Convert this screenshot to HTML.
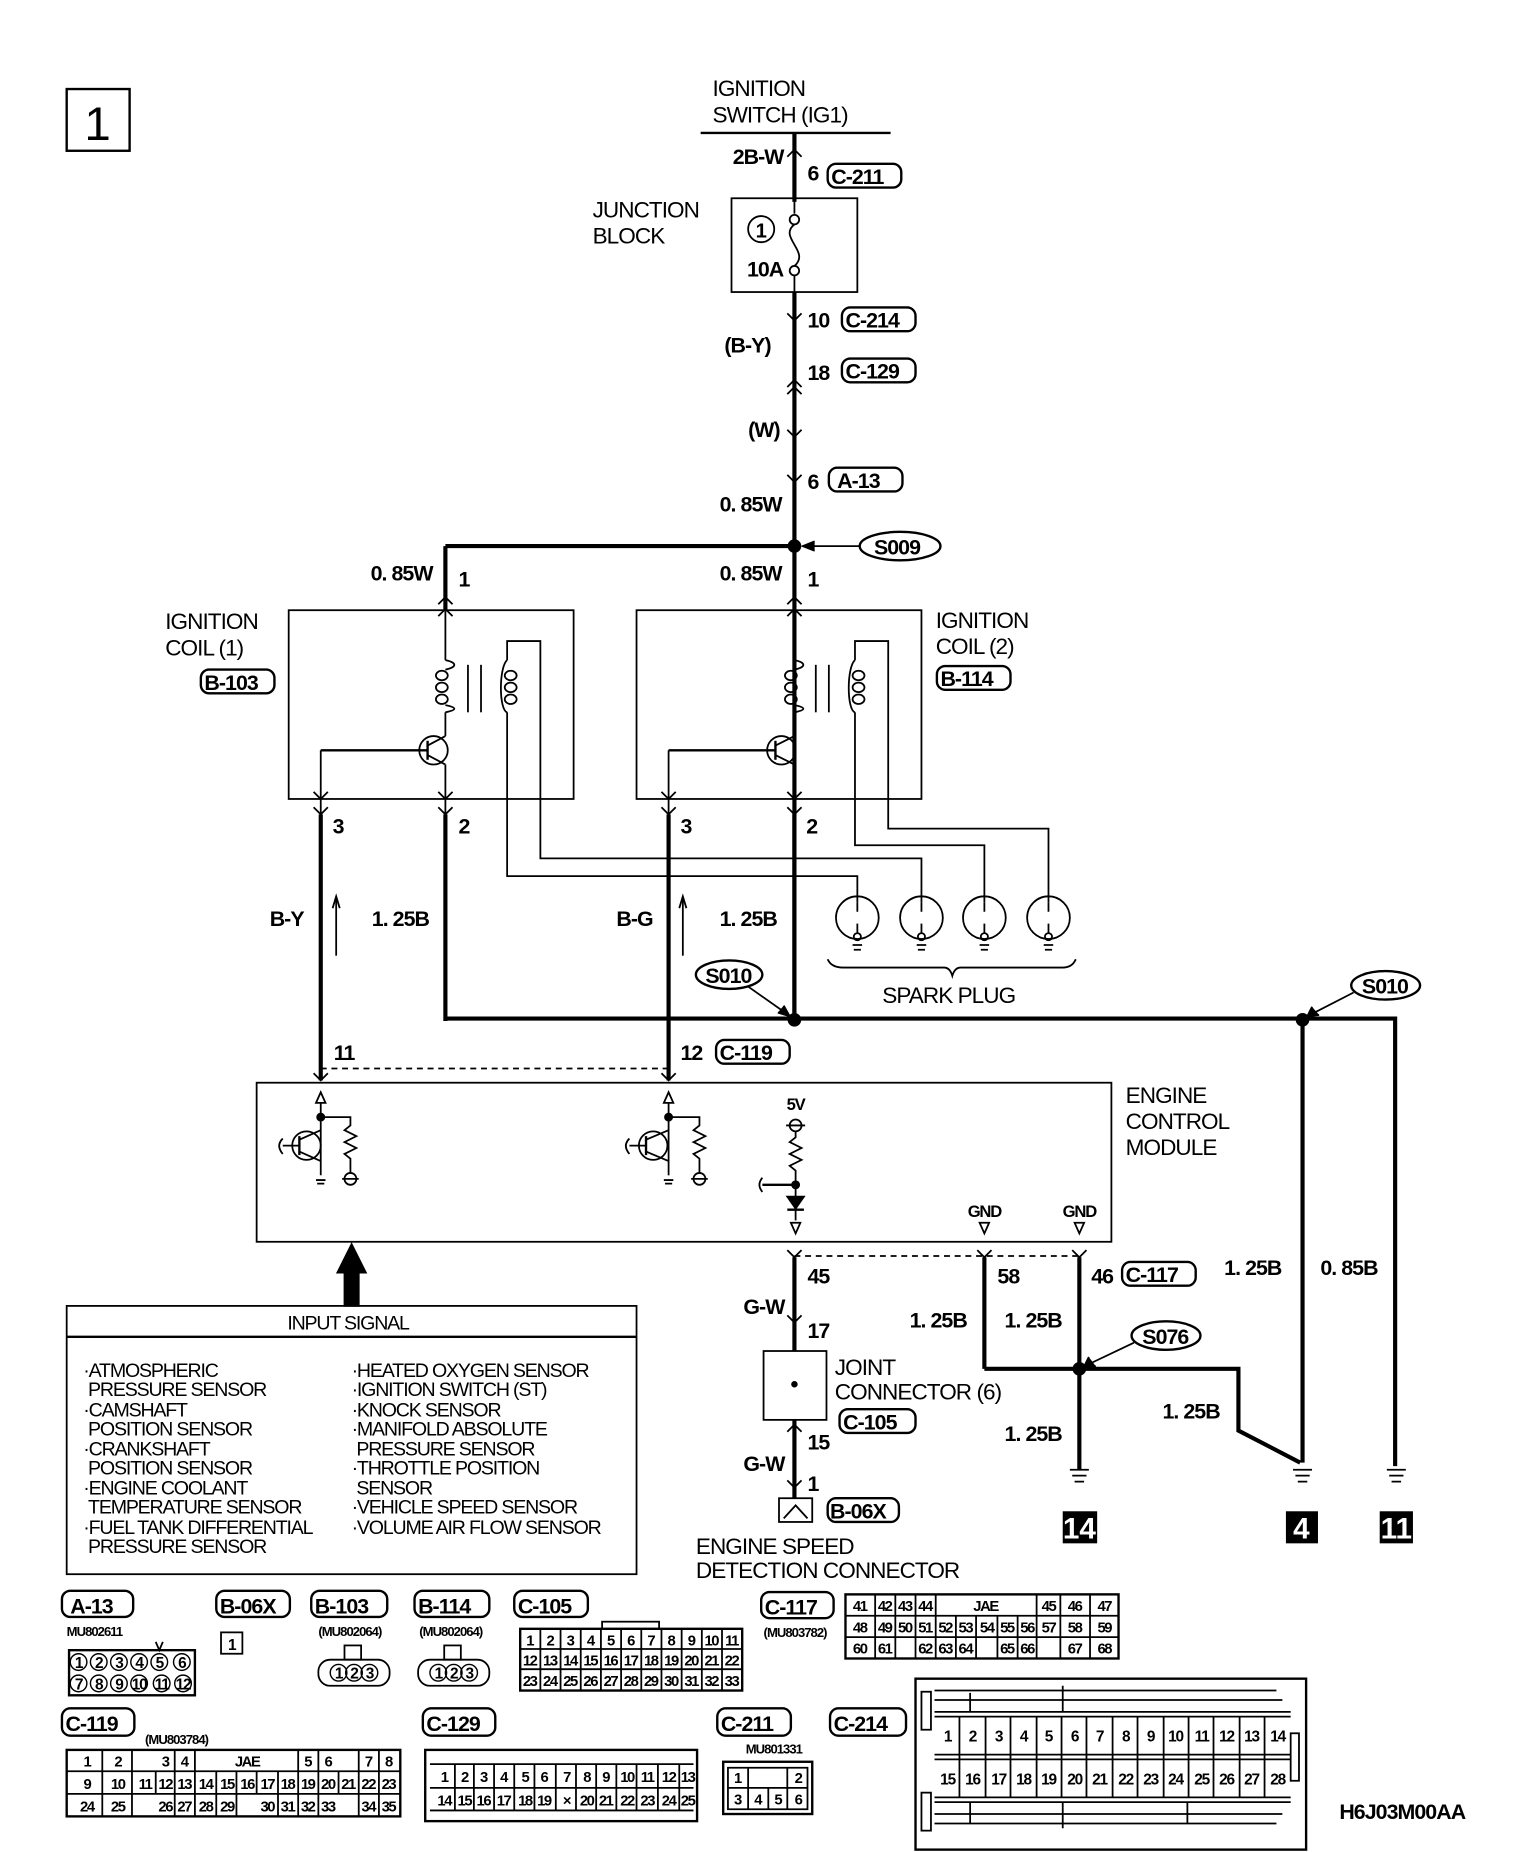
<!DOCTYPE html>
<html><head><meta charset="utf-8"><style>
html,body{margin:0;padding:0;background:#fff;}
svg{display:block;}
text{font-family:"Liberation Sans",sans-serif;fill:#000;}
.l{font-size:19px;letter-spacing:-0.8px;}
.b{font-size:18px;font-weight:bold;letter-spacing:-0.8px;}
.s{font-size:16.5px;letter-spacing:-1px;}
.tn{font-size:11px;font-weight:bold;letter-spacing:-0.8px;}
.c{font-size:12.5px;font-weight:bold;letter-spacing:-1.2px;text-anchor:middle;}
.k{stroke:#000;fill:none;}
</style></head><body>
<svg width="1520" height="1852" viewBox="0 0 1280 1560" xmlns="http://www.w3.org/2000/svg">
<g class="k" stroke-width="1.5">
<rect x="56" y="75" width="53" height="52" stroke-width="2"/>
<line x1="590" y1="112" x2="750" y2="112" stroke-width="2"/>
<line x1="669" y1="112" x2="669" y2="170" stroke-width="3.5"/>
<rect x="616" y="167" width="106" height="79" stroke-width="1.5"/>
<line x1="669" y1="167" x2="669" y2="180"/>
<circle cx="669" cy="185" r="4"/><circle cx="669" cy="228" r="4"/>
<path d="M669 189 C655 200,683 212,669 224"/>
<line x1="669" y1="232" x2="669" y2="246"/>
<circle cx="641" cy="193" r="11"/>
<line x1="669" y1="246" x2="669" y2="860" stroke-width="3.5"/>
<path d="M663 132 L669 126 L675 132 M663 264 L669 270 L675 264 M663 326 L669 320 L675 326 M663 332 L669 326 L675 332 M663 362 L669 368 L675 362 M663 400 L669 406 L675 400"/>
<line x1="375" y1="460" x2="669" y2="460" stroke-width="3.5"/>
<circle cx="669" cy="460" r="5" fill="#000"/>
<ellipse cx="758" cy="460" rx="34" ry="12" stroke-width="2"/>
<line x1="724" y1="460" x2="678" y2="460"/><path d="M686 456 L676 460 L686 464" fill="#000"/>
<line x1="375" y1="460" x2="375" y2="515" stroke-width="3.5"/>
<line x1="669" y1="460" x2="669" y2="515"/>
<rect x="243" y="514" width="240" height="159"/>
<rect x="536" y="514" width="240" height="159"/>
<path d="M369 509 L375 503 L381 509 M369 519 L375 513 L381 519"/>
<line x1="375" y1="515" x2="375" y2="556"/>
<path d="M375 556 C385 558,385 562,375 564 M375 594 C385 596,385 598,375 600"/>
<ellipse cx="372" cy="569" rx="5" ry="4"/><ellipse cx="372" cy="579" rx="5" ry="4"/><ellipse cx="372" cy="589" rx="5" ry="4"/>
<line x1="375" y1="600" x2="375" y2="620"/>
<line x1="394" y1="560" x2="394" y2="600"/><line x1="405" y1="560" x2="405" y2="600"/>
<ellipse cx="430" cy="569" rx="5" ry="4"/><ellipse cx="430" cy="579" rx="5" ry="4"/><ellipse cx="430" cy="589" rx="5" ry="4"/>
<path d="M427 600 C420 598,420 562,427 556"/>
<path d="M427 556 L427 540 L455 540 L455 723 L776 723 L776 760"/>
<path d="M427 600 L427 738 L722 738 L722 760"/>
<circle cx="365" cy="632" r="12"/>
<line x1="360" y1="624" x2="360" y2="640" stroke-width="2"/>
<line x1="360" y1="628" x2="375" y2="620"/><line x1="360" y1="636" x2="375" y2="644"/>
<line x1="270" y1="632" x2="360" y2="632" stroke-width="2"/>
<line x1="270" y1="632" x2="270" y2="690"/>
<line x1="375" y1="644" x2="375" y2="690"/>
<path d="M264 667 L270 673 L276 667 M264 680 L270 686 L276 680 M369 667 L375 673 L381 667 M369 680 L375 686 L381 680"/>
<path d="M663 509 L669 503 L675 509 M663 519 L669 513 L675 519"/>
<line x1="669" y1="515" x2="669" y2="556"/>
<path d="M669 556 C679 558,679 562,669 564 M669 594 C679 596,679 598,669 600"/>
<ellipse cx="666" cy="569" rx="5" ry="4"/><ellipse cx="666" cy="579" rx="5" ry="4"/><ellipse cx="666" cy="589" rx="5" ry="4"/>
<line x1="669" y1="600" x2="669" y2="620"/>
<line x1="687" y1="560" x2="687" y2="600"/><line x1="698" y1="560" x2="698" y2="600"/>
<ellipse cx="723" cy="569" rx="5" ry="4"/><ellipse cx="723" cy="579" rx="5" ry="4"/><ellipse cx="723" cy="589" rx="5" ry="4"/>
<path d="M720 600 C713 598,713 562,720 556"/>
<path d="M720 556 L720 540 L748 540 L748 698 L883 698 L883 760"/>
<path d="M720 600 L720 712 L829 712 L829 760"/>
<circle cx="658" cy="632" r="12"/>
<line x1="653" y1="624" x2="653" y2="640" stroke-width="2"/>
<line x1="653" y1="628" x2="669" y2="620"/><line x1="653" y1="636" x2="669" y2="644"/>
<line x1="563" y1="632" x2="653" y2="632" stroke-width="2"/>
<line x1="563" y1="632" x2="563" y2="690"/>
<line x1="669" y1="644" x2="669" y2="690"/>
<path d="M557 667 L563 673 L569 667 M557 680 L563 686 L569 680 M663 667 L669 673 L675 667 M663 680 L669 686 L675 680"/>
<line x1="270" y1="686" x2="270" y2="910" stroke-width="3.5"/>
<line x1="375" y1="686" x2="375" y2="860" stroke-width="3.5"/>
<line x1="563" y1="686" x2="563" y2="910" stroke-width="3.5"/>
<line x1="669" y1="686" x2="669" y2="860" stroke-width="3.5"/>
<polyline points="375,858 1175,858 1175,1235" stroke-width="3.5"/>
<line x1="1097" y1="858" x2="1097" y2="1232" stroke-width="3.5"/>
<circle cx="669" cy="859" r="5" fill="#000"/><circle cx="1097" cy="859" r="5" fill="#000"/>
<line x1="283" y1="805" x2="283" y2="757"/><path d="M280 765 L283 755 L286 765"/>
<line x1="575" y1="805" x2="575" y2="757"/><path d="M572 765 L575 755 L578 765"/>
<circle cx="722" cy="773" r="18"/><circle cx="776" cy="773" r="18"/><circle cx="829" cy="773" r="18"/><circle cx="883" cy="773" r="18"/>
<path d="M722 760 V768 M722 778 V786 M776 760 V768 M776 778 V786 M829 760 V768 M829 778 V786 M883 760 V768 M883 778 V786"/>
<circle cx="722" cy="789" r="3"/><circle cx="776" cy="789" r="3"/><circle cx="829" cy="789" r="3"/><circle cx="883" cy="789" r="3"/>
<path d="M718 796 H726 M719 800 H725 M772 796 H780 M773 800 H779 M825 796 H833 M826 800 H832 M879 796 H887 M880 800 H886"/>
<path d="M697 808 Q700 815 710 815 L795 815 Q800 815 802 822 Q804 815 809 815 L895 815 Q903 815 906 808"/>
<ellipse cx="614" cy="821" rx="28" ry="12" stroke-width="2"/>
<line x1="630" y1="831" x2="664" y2="855"/><path d="M655 853 L665 856 L660 847" fill="#000"/>
<ellipse cx="1167" cy="830" rx="29" ry="12" stroke-width="2"/>
<line x1="1140" y1="836" x2="1103" y2="855"/><path d="M1105 848 L1101 856 L1111 855" fill="#000"/>
<line x1="270" y1="900" x2="563" y2="900" stroke-dasharray="5,4"/>
<path d="M264 904 L270 910 L276 904 M557 904 L563 910 L569 904"/>
<rect x="216" y="912" width="720" height="134"/>
<path d="M266 929 L270 920 L274 929 Z M559 929 L563 920 L567 929 Z"/>
<line x1="270" y1="929" x2="270" y2="990"/><circle cx="270" cy="941" r="3" fill="#000"/>
<polyline points="270,941 295,941 295,948 290,952 300,957 290,962 300,967 290,972 295,976 295,988"/>
<circle cx="295" cy="993" r="5"/><line x1="288" y1="993" x2="302" y2="993"/>
<circle cx="258" cy="965" r="12"/><line x1="252" y1="957" x2="252" y2="973" stroke-width="2"/>
<line x1="238" y1="965" x2="252" y2="965"/><path d="M238 959 Q232 965 238 972"/>
<line x1="252" y1="960" x2="270" y2="952"/><line x1="252" y1="970" x2="270" y2="978"/>
<path d="M266 994 H274 M267 997 H273"/>
<line x1="563" y1="929" x2="563" y2="990"/><circle cx="563" cy="941" r="3" fill="#000"/>
<polyline points="563,941 589,941 589,948 584,952 594,957 584,962 594,967 584,972 589,976 589,988"/>
<circle cx="589" cy="993" r="5"/><line x1="582" y1="993" x2="596" y2="993"/>
<circle cx="550" cy="965" r="12"/><line x1="544" y1="957" x2="544" y2="973" stroke-width="2"/>
<line x1="530" y1="965" x2="544" y2="965"/><path d="M530 959 Q524 965 530 972"/>
<line x1="544" y1="960" x2="563" y2="952"/><line x1="544" y1="970" x2="563" y2="978"/>
<path d="M559 994 H567 M560 997 H566"/>
<circle cx="670" cy="948" r="5"/><line x1="662" y1="948" x2="678" y2="948"/>
<polyline points="670,953 670,958 665,962 675,967 665,972 675,977 665,982 670,986 670,998"/>
<line x1="642" y1="998" x2="670" y2="998" stroke-width="2"/><circle cx="670" cy="998" r="3" fill="#000"/>
<path d="M642 992 Q637 998 642 1004"/>
<line x1="670" y1="998" x2="670" y2="1028"/>
<path d="M663 1008 L677 1008 L670 1018 Z" fill="#000"/><line x1="663" y1="1019" x2="677" y2="1019" stroke-width="2"/>
<path d="M666 1030 L670 1039 L674 1030 Z M825 1030 L829 1039 L833 1030 Z M905 1030 L909 1039 L913 1030 Z"/>
<path d="M663 1053 L669 1059 L675 1053 M823 1053 L829 1059 L835 1053 M903 1053 L909 1059 L915 1053"/>
<line x1="669" y1="1058" x2="909" y2="1058" stroke-dasharray="5,4"/>
<line x1="669" y1="1059" x2="669" y2="1138" stroke-width="3.5"/>
<path d="M663 1108 L669 1114 L675 1108"/>
<rect x="643" y="1138" width="53" height="58"/><circle cx="669" cy="1166" r="2" fill="#000"/>
<line x1="669" y1="1196" x2="669" y2="1262" stroke-width="3.5"/>
<path d="M663 1206 L669 1200 L675 1206 M663 1247 L669 1253 L675 1247"/>
<rect x="656" y="1262" width="28" height="20"/><path d="M660 1279 L670 1268 L680 1279"/>
<line x1="829" y1="1059" x2="829" y2="1153" stroke-width="3.5"/>
<line x1="909" y1="1059" x2="909" y2="1238" stroke-width="3.5"/>
<polyline points="829,1153 1043,1153 1043,1205 1095,1232" stroke-width="3.5"/>
<circle cx="909" cy="1153" r="5" fill="#000"/>
<ellipse cx="982" cy="1125" rx="29" ry="12" stroke-width="2"/>
<line x1="955" y1="1131" x2="915" y2="1150"/><path d="M917 1143 L913 1151 L923 1151" fill="#000"/>
<path d="M901 1238 H917 M903 1243 H915 M905 1248 H913 M1089 1238 H1105 M1091 1243 H1103 M1093 1248 H1101 M1168 1238 H1184 M1170 1243 H1182 M1172 1248 H1180"/>
<path d="M296 1048 L308 1072 L302 1072 L302 1100 L290 1100 L290 1072 L284 1072 Z" fill="#000"/>
<rect x="56" y="1100" width="480" height="226"/>
<line x1="56" y1="1126" x2="536" y2="1126" stroke-width="2"/>
</g>
<rect x="895" y="1273" width="29" height="27" fill="#000"/>
<rect x="1083" y="1273" width="27" height="27" fill="#000"/>
<rect x="1162" y="1273" width="28" height="27" fill="#000"/>
<text x="909" y="1296" font-size="25" font-weight="bold" text-anchor="middle" style="fill:#fff">14</text>
<text x="1096" y="1296" font-size="25" font-weight="bold" text-anchor="middle" style="fill:#fff">4</text>
<text x="1176" y="1296" font-size="25" font-weight="bold" text-anchor="middle" style="fill:#fff">11</text>

<text x="82" y="118" font-size="40" text-anchor="middle">1</text>
<text class="l" x="600" y="81">IGNITION</text>
<text class="l" x="600" y="103">SWITCH (IG1)</text>
<text class="b" x="617" y="138">2B-W</text>
<text class="b" x="680" y="152">6</text>
<rect x="697" y="138" width="62" height="20" rx="7" fill="none" stroke="#000" stroke-width="2"/><text class="b" x="700" y="155">C-211</text>
<text class="l" x="499" y="183">JUNCTION</text><text class="l" x="499" y="205">BLOCK</text>
<text x="641" y="200" font-size="17" font-weight="bold" text-anchor="middle">1</text>
<text class="b" x="629" y="233" font-size="15">10A</text>
<text class="b" x="680" y="276">10</text>
<rect x="709" y="259" width="62" height="20" rx="7" fill="none" stroke="#000" stroke-width="2"/><text class="b" x="712" y="276">C-214</text>
<text class="b" x="610" y="297">(B-Y)</text>
<text class="b" x="680" y="320">18</text>
<rect x="709" y="302" width="62" height="20" rx="7" fill="none" stroke="#000" stroke-width="2"/><text class="b" x="712" y="319">C-129</text>
<text class="b" x="630" y="368">(W)</text>
<text class="b" x="680" y="412">6</text>
<rect x="698" y="394" width="62" height="20" rx="7" fill="none" stroke="#000" stroke-width="2"/><text class="b" x="705" y="411">A-13</text>
<text class="b" x="606" y="431">0. 85W</text>
<text class="b" x="736" y="467">S009</text>
<text class="b" x="312" y="489">0. 85W</text><text class="b" x="386" y="494">1</text>
<text class="b" x="606" y="489">0. 85W</text><text class="b" x="680" y="494">1</text>
<text class="l" x="139" y="530">IGNITION</text><text class="l" x="139" y="552">COIL (1)</text>
<rect x="169" y="564" width="62" height="20" rx="7" fill="none" stroke="#000" stroke-width="2"/><text class="b" x="172" y="581">B-103</text>
<text class="l" x="788" y="529">IGNITION</text><text class="l" x="788" y="551">COIL (2)</text>
<rect x="789" y="561" width="62" height="20" rx="7" fill="none" stroke="#000" stroke-width="2"/><text class="b" x="792" y="578">B-114</text>
<text class="b" x="280" y="702">3</text><text class="b" x="386" y="702">2</text>
<text class="b" x="573" y="702">3</text><text class="b" x="679" y="702">2</text>
<text class="b" x="227" y="780">B-Y</text><text class="b" x="313" y="780">1. 25B</text>
<text class="b" x="519" y="780">B-G</text><text class="b" x="606" y="780">1. 25B</text>
<text class="l" x="743" y="845">SPARK PLUG</text>
<text class="b" x="594" y="828">S010</text>
<text class="b" x="1147" y="837">S010</text>
<text class="b" x="281" y="893">11</text>
<text class="b" x="573" y="893">12</text>
<rect x="603" y="876" width="62" height="20" rx="7" fill="none" stroke="#000" stroke-width="2"/><text class="b" x="606" y="893">C-119</text>
<text class="l" x="948" y="929">ENGINE</text><text class="l" x="948" y="951">CONTROL</text><text class="l" x="948" y="973">MODULE</text>
<text x="670" y="935" text-anchor="middle" font-size="14" font-weight="bold" letter-spacing="-1">5V</text>
<text x="829" y="1025" text-anchor="middle" font-size="14" font-weight="bold" letter-spacing="-1">GND</text>
<text x="909" y="1025" text-anchor="middle" font-size="14" font-weight="bold" letter-spacing="-1">GND</text>
<text class="b" x="680" y="1081">45</text><text class="b" x="840" y="1081">58</text><text class="b" x="919" y="1081">46</text>
<rect x="945" y="1063" width="62" height="20" rx="7" fill="none" stroke="#000" stroke-width="2"/><text class="b" x="948" y="1080">C-117</text>
<text class="b" x="1031" y="1074">1. 25B</text><text class="b" x="1112" y="1074">0. 85B</text>
<text class="b" x="626" y="1107">G-W</text>
<text class="b" x="680" y="1127">17</text>
<text class="b" x="766" y="1118">1. 25B</text><text class="b" x="846" y="1118">1. 25B</text>
<text class="b" x="962" y="1132">S076</text>
<text class="l" x="703" y="1158">JOINT</text><text class="l" x="703" y="1179">CONNECTOR (6)</text>
<rect x="707" y="1187" width="64" height="20" rx="7" fill="none" stroke="#000" stroke-width="2"/><text class="b" x="710" y="1204">C-105</text>
<text class="b" x="979" y="1195">1. 25B</text>
<text class="b" x="680" y="1221">15</text>
<text class="b" x="846" y="1214">1. 25B</text>
<text class="b" x="626" y="1239">G-W</text>
<text class="b" x="680" y="1256">1</text>
<rect x="697" y="1262" width="60" height="20" rx="7" fill="none" stroke="#000" stroke-width="2"/><text class="b" x="699" y="1279">B-06X</text>
<text class="l" x="586" y="1309">ENGINE SPEED</text><text class="l" x="586" y="1329">DETECTION CONNECTOR</text>
<text class="s" x="293" y="1120" text-anchor="middle" font-size="16">INPUT SIGNAL</text>
<g class="s">
<text x="70" y="1160">·ATMOSPHERIC</text><text x="74" y="1176">PRESSURE SENSOR</text>
<text x="70" y="1193">·CAMSHAFT</text><text x="74" y="1209">POSITION SENSOR</text>
<text x="70" y="1226">·CRANKSHAFT</text><text x="74" y="1242">POSITION SENSOR</text>
<text x="70" y="1259">·ENGINE COOLANT</text><text x="74" y="1275">TEMPERATURE SENSOR</text>
<text x="70" y="1292">·FUEL TANK DIFFERENTIAL</text><text x="74" y="1308">PRESSURE SENSOR</text>
<text x="296" y="1160">·HEATED OXYGEN SENSOR</text><text x="296" y="1176">·IGNITION SWITCH (ST)</text>
<text x="296" y="1193">·KNOCK SENSOR</text><text x="296" y="1209">·MANIFOLD ABSOLUTE</text>
<text x="300" y="1226">PRESSURE SENSOR</text><text x="296" y="1242">·THROTTLE POSITION</text>
<text x="300" y="1259">SENSOR</text><text x="296" y="1275">·VEHICLE SPEED SENSOR</text>
<text x="296" y="1292">·VOLUME AIR FLOW SENSOR</text>
</g>

<g fill="none" stroke="#000" stroke-width="2">
<rect x="52" y="1340" width="60" height="22" rx="7"/><rect x="182" y="1340" width="62" height="22" rx="7"/>
<rect x="262" y="1340" width="64" height="22" rx="7"/><rect x="349" y="1340" width="63" height="22" rx="7"/>
<rect x="433" y="1340" width="62" height="22" rx="7"/><rect x="641" y="1341" width="61" height="22" rx="7"/>
<rect x="52" y="1439" width="61" height="23" rx="7"/><rect x="356" y="1439" width="61" height="23" rx="7"/>
<rect x="604" y="1439" width="62" height="23" rx="7"/><rect x="699" y="1439" width="64" height="23" rx="7"/>
</g>
<g class="b" font-size="19">
<text x="59" y="1359">A-13</text><text x="185" y="1359">B-06X</text><text x="265" y="1359">B-103</text><text x="352" y="1359">B-114</text>
<text x="436" y="1359">C-105</text><text x="644" y="1360">C-117</text><text x="55" y="1458">C-119</text><text x="359" y="1458">C-129</text>
<text x="607" y="1458">C-211</text><text x="702" y="1458">C-214</text>
</g>
<g class="tn">
<text x="56" y="1378">MU802611</text><text x="268" y="1378">(MU802064)</text><text x="353" y="1378">(MU802064)</text>
<text x="643" y="1379">(MU803782)</text><text x="122" y="1469">(MU803784)</text><text x="628" y="1477">MU801331</text>
</g>
<text class="b" x="1128" y="1532" font-size="16">H6J03M00AA</text>

<g fill="none" stroke="#000" stroke-width="1.5">
<rect x="58" y="1390" width="106" height="38" stroke-width="2"/>
<path d="M131 1383 L134 1390 L137 1383"/>
<rect x="186" y="1375" width="18" height="18"/>
<rect x="268" y="1398" width="60" height="22" rx="10"/><rect x="290" y="1386" width="14" height="12"/>
<rect x="352" y="1398" width="60" height="22" rx="10"/><rect x="374" y="1386" width="14" height="12"/>
<!-- C-105 -->
<rect x="438" y="1372" width="187" height="52" stroke-width="2"/>
<path d="M438 1389 H625 M438 1406 H625"/>
<path d="M455 1372 V1424 M472 1372 V1424 M489 1372 V1424 M506 1372 V1424 M523 1372 V1424 M540 1372 V1424 M557 1372 V1424 M574 1372 V1424 M591 1372 V1424 M608 1372 V1424"/>
<rect x="507" y="1366" width="48" height="6"/>
<!-- C-117 -->
<rect x="712" y="1343" width="230" height="54" stroke-width="2"/>
<path d="M712 1361 H942 M712 1379 H942"/>
<path d="M737 1343 V1397 M754 1343 V1397 M771 1343 V1397 M788 1343 V1397 M873 1343 V1397 M893 1343 V1397 M918 1343 V1397 M805 1361 V1397 M822 1361 V1397 M840 1361 V1397 M857 1361 V1397"/>
<!-- C-119 -->
<rect x="56" y="1474" width="281" height="56" stroke-width="2"/>
<path d="M56 1492 H337 M56 1511 H337"/>
<path d="M86 1474 V1530 M111 1474 V1530 M131 1492 V1511 M147 1474 V1530 M164 1474 V1530 M182 1492 V1530 M199 1492 V1530 M216 1492 V1511 M234 1492 V1530 M251 1474 V1530 M268 1474 V1530 M285 1492 V1511 M302 1474 V1530 M319 1474 V1530"/>
<!-- C-129 -->
<rect x="358" y="1474" width="229" height="60" stroke-width="2"/>
<path d="M362 1486 H584 M362 1506 H584 M362 1525 H584"/>
<path d="M383 1486 V1525 M399 1486 V1525 M416 1486 V1525 M433 1486 V1525 M450 1486 V1525 M468 1486 V1525 M485 1486 V1525 M502 1486 V1525 M519 1486 V1525 M536 1486 V1525 M554 1486 V1525 M572 1486 V1525"/>
<!-- C-211 -->
<rect x="609" y="1484" width="75" height="44" stroke-width="2"/>
<path d="M613 1489 H680 V1524 H613 Z M613 1506 H680 M630 1489 V1524 M647 1506 V1524 M663 1489 V1524"/>
<!-- C-214 -->
<rect x="771" y="1414" width="329" height="144" stroke-width="2"/>
<path d="M787 1442 H1087 M787 1446 H1087 M787 1478 H1087 M787 1482 H1087 M787 1514 H1087 M787 1518 H1087 M787 1432 H1080 M787 1528 H1080 M787 1424 H1075 M787 1536 H1075"/>
<rect x="776" y="1425" width="8" height="32"/><rect x="776" y="1510" width="8" height="32"/>
<rect x="1087" y="1460" width="7" height="40"/>
<path d="M808 1446 V1514 M830 1446 V1514 M851 1446 V1514 M873 1446 V1514 M894 1446 V1514 M915 1446 V1514 M937 1446 V1514 M958 1446 V1514 M980 1446 V1514 M1001 1446 V1514 M1022 1446 V1514 M1044 1446 V1514 M1065 1446 V1514"/>
<path d="M895 1420 V1442 M895 1518 V1540 M817 1426 V1442 M1000 1518 V1536 M817 1518 V1536"/>
</g>
<g font-size="13" font-weight="bold" text-anchor="middle" style="letter-spacing:-1px">
<text x="66" y="1405">1</text><text x="83" y="1405">2</text><text x="100" y="1405">3</text><text x="117" y="1405">4</text><text x="134" y="1405">5</text><text x="153" y="1405">6</text>
<text x="66" y="1423">7</text><text x="83" y="1423">8</text><text x="100" y="1423">9</text><text x="117" y="1423">10</text><text x="136" y="1423">11</text><text x="154" y="1423">12</text>
<text x="195" y="1390">1</text>
<text x="285" y="1414">1</text><text x="298" y="1414">2</text><text x="311" y="1414">3</text>
<text x="369" y="1414">1</text><text x="382" y="1414">2</text><text x="395" y="1414">3</text>
</g>
<g fill="none" stroke="#000" stroke-width="1.2">
<circle cx="66" cy="1400" r="7"/><circle cx="83" cy="1400" r="7"/><circle cx="100" cy="1400" r="7"/><circle cx="117" cy="1400" r="7"/><circle cx="134" cy="1400" r="7"/><circle cx="153" cy="1400" r="7"/>
<circle cx="66" cy="1418" r="7"/><circle cx="83" cy="1418" r="7"/><circle cx="100" cy="1418" r="7"/><circle cx="117" cy="1418" r="7"/><circle cx="136" cy="1418" r="7"/><circle cx="154" cy="1418" r="7"/>
<circle cx="285" cy="1409" r="7"/><circle cx="298" cy="1409" r="7"/><circle cx="311" cy="1409" r="7"/>
<circle cx="369" cy="1409" r="7"/><circle cx="382" cy="1409" r="7"/><circle cx="395" cy="1409" r="7"/>
</g>
<g class="c">
<!-- C-105 -->
<text x="446" y="1386">1</text><text x="463" y="1386">2</text><text x="480" y="1386">3</text><text x="497" y="1386">4</text><text x="514" y="1386">5</text><text x="531" y="1386">6</text><text x="548" y="1386">7</text><text x="565" y="1386">8</text><text x="582" y="1386">9</text><text x="599" y="1386">10</text><text x="616" y="1386">11</text>
<text x="446" y="1403">12</text><text x="463" y="1403">13</text><text x="480" y="1403">14</text><text x="497" y="1403">15</text><text x="514" y="1403">16</text><text x="531" y="1403">17</text><text x="548" y="1403">18</text><text x="565" y="1403">19</text><text x="582" y="1403">20</text><text x="599" y="1403">21</text><text x="616" y="1403">22</text>
<text x="446" y="1420">23</text><text x="463" y="1420">24</text><text x="480" y="1420">25</text><text x="497" y="1420">26</text><text x="514" y="1420">27</text><text x="531" y="1420">28</text><text x="548" y="1420">29</text><text x="565" y="1420">30</text><text x="582" y="1420">31</text><text x="599" y="1420">32</text><text x="616" y="1420">33</text>
<!-- C-117 -->
<text x="724" y="1357">41</text><text x="745" y="1357">42</text><text x="762" y="1357">43</text><text x="779" y="1357">44</text><text x="830" y="1357">JAE</text><text x="883" y="1357">45</text><text x="905" y="1357">46</text><text x="930" y="1357">47</text>
<text x="724" y="1375">48</text><text x="745" y="1375">49</text><text x="762" y="1375">50</text><text x="779" y="1375">51</text><text x="796" y="1375">52</text><text x="813" y="1375">53</text><text x="831" y="1375">54</text><text x="848" y="1375">55</text><text x="865" y="1375">56</text><text x="883" y="1375">57</text><text x="905" y="1375">58</text><text x="930" y="1375">59</text>
<text x="724" y="1393">60</text><text x="745" y="1393">61</text><text x="779" y="1393">62</text><text x="796" y="1393">63</text><text x="813" y="1393">64</text><text x="848" y="1393">65</text><text x="865" y="1393">66</text><text x="905" y="1393">67</text><text x="930" y="1393">68</text>
<!-- C-119 -->
<text x="73" y="1488">1</text><text x="99" y="1488">2</text><text x="139" y="1488">3</text><text x="155" y="1488">4</text><text x="208" y="1488">JAE</text><text x="259" y="1488">5</text><text x="276" y="1488">6</text><text x="310" y="1488">7</text><text x="327" y="1488">8</text>
<text x="73" y="1507">9</text><text x="99" y="1507">10</text><text x="122" y="1507">11</text><text x="139" y="1507">12</text><text x="155" y="1507">13</text><text x="173" y="1507">14</text><text x="191" y="1507">15</text><text x="208" y="1507">16</text><text x="225" y="1507">17</text><text x="242" y="1507">18</text><text x="259" y="1507">19</text><text x="276" y="1507">20</text><text x="293" y="1507">21</text><text x="310" y="1507">22</text><text x="327" y="1507">23</text>
<text x="73" y="1526">24</text><text x="99" y="1526">25</text><text x="139" y="1526">26</text><text x="155" y="1526">27</text><text x="173" y="1526">28</text><text x="191" y="1526">29</text><text x="225" y="1526">30</text><text x="242" y="1526">31</text><text x="259" y="1526">32</text><text x="276" y="1526">33</text><text x="310" y="1526">34</text><text x="327" y="1526">35</text>
<!-- C-129 -->
<text x="374" y="1501">1</text><text x="391" y="1501">2</text><text x="407" y="1501">3</text><text x="424" y="1501">4</text><text x="442" y="1501">5</text><text x="458" y="1501">6</text><text x="477" y="1501">7</text><text x="494" y="1501">8</text><text x="510" y="1501">9</text><text x="528" y="1501">10</text><text x="545" y="1501">11</text><text x="563" y="1501">12</text><text x="579" y="1501">13</text>
<text x="374" y="1521">14</text><text x="391" y="1521">15</text><text x="407" y="1521">16</text><text x="424" y="1521">17</text><text x="442" y="1521">18</text><text x="458" y="1521">19</text><text x="477" y="1521">×</text><text x="494" y="1521">20</text><text x="510" y="1521">21</text><text x="528" y="1521">22</text><text x="545" y="1521">23</text><text x="563" y="1521">24</text><text x="579" y="1521">25</text>
<!-- C-211 -->
<text x="621" y="1502">1</text><text x="672" y="1502">2</text>
<text x="621" y="1520">3</text><text x="638" y="1520">4</text><text x="655" y="1520">5</text><text x="672" y="1520">6</text>
</g>
<g font-size="13" font-weight="bold" text-anchor="middle" style="letter-spacing:-1px">
<text x="798" y="1467">1</text><text x="819" y="1467">2</text><text x="841" y="1467">3</text><text x="862" y="1467">4</text><text x="883" y="1467">5</text><text x="905" y="1467">6</text><text x="926" y="1467">7</text><text x="948" y="1467">8</text><text x="969" y="1467">9</text><text x="990" y="1467">10</text><text x="1012" y="1467">11</text><text x="1033" y="1467">12</text><text x="1054" y="1467">13</text><text x="1076" y="1467">14</text>
<text x="798" y="1503">15</text><text x="819" y="1503">16</text><text x="841" y="1503">17</text><text x="862" y="1503">18</text><text x="883" y="1503">19</text><text x="905" y="1503">20</text><text x="926" y="1503">21</text><text x="948" y="1503">22</text><text x="969" y="1503">23</text><text x="990" y="1503">24</text><text x="1012" y="1503">25</text><text x="1033" y="1503">26</text><text x="1054" y="1503">27</text><text x="1076" y="1503">28</text>
</g>
</svg>
</body></html>
